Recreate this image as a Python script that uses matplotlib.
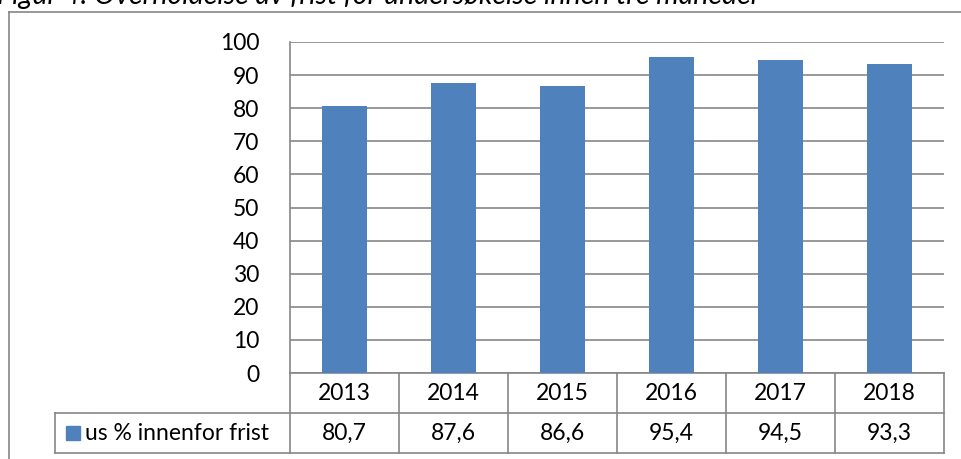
import matplotlib.pyplot as plt
import numpy as np
from matplotlib.lines import Line2D
import matplotlib.transforms as mtransforms

# data
years = ['2013', '2014', '2015', '2016', '2017', '2018']
values = [80.7, 87.6, 86.6, 95.4, 94.5, 93.3]
series_name = 'us % innenfor frist'
title = 'Figur 4: Overholdelse av frist for undersøkelse innen tre måneder'

bar_color = '#4F81BD'
grid_color = '#868686'
font = 'Lato'
fs = 16.5

W, H = 961, 459
fig = plt.figure(figsize=(W / 100, H / 100), dpi=100)
plt.rcParams['font.family'] = [font, 'DejaVu Sans']

def fx(px):
  return px / W

def fy(py):
  return 1 - py / H

# outer chart frame (left + top edges visible)
fig.add_artist(Line2D([fx(9), fx(9)], [fy(12), 0], color=grid_color, lw=1.2))
fig.add_artist(Line2D([fx(9), 1], [fy(12), fy(12)], color=grid_color, lw=1.2))

# title, cut at the top of the picture
fig.text(fx(-3), fy(4), title, fontsize=20.5, style='italic', va='baseline', ha='left')

left, right, top, bottom = 290, 944, 42, 373
ax = fig.add_axes([fx(left), fy(bottom), fx(right - left), fy(top) - fy(bottom)])

x = np.arange(len(years))
ax.bar(x, values, width=0.41, color=bar_color, zorder=3)
ax.set_xlim(-0.5, len(years) - 0.5)
ax.set_ylim(0, 100)
ax.set_yticks(range(0, 101, 10))
ax.yaxis.grid(True, color=grid_color, lw=1.2, zorder=0)
ax.set_xticks([])
ax.tick_params(axis='y', length=0, pad=22, labelsize=fs)
for s in ['top', 'right', 'bottom']:
  ax.spines[s].set_visible(False)
ax.spines['left'].set_color(grid_color)
ax.spines['left'].set_linewidth(1.2)

# data table under the axis
trans = mtransforms.blended_transform_factory(ax.transData, ax.transAxes)
ph = bottom - top
r1 = -40 / ph
r2 = -80 / ph
leg_left = (55 - left) / ((right - left) / len(years)) - 0.5
lkw = dict(color=grid_color, lw=1.2, transform=trans, clip_on=False)
ax.add_line(Line2D([-0.5, len(years) - 0.5], [0, 0], **lkw))
ax.add_line(Line2D([leg_left, len(years) - 0.5], [r1, r1], **lkw))
ax.add_line(Line2D([leg_left, len(years) - 0.5], [r2, r2], **lkw))
for i in range(len(years) + 1):
  ax.add_line(Line2D([i - 0.5, i - 0.5], [0, r2], **lkw))
ax.add_line(Line2D([leg_left, leg_left], [r1, r2], **lkw))

for i, (yr, v) in enumerate(zip(years, values)):
  ax.text(i, r1 / 2, yr, transform=trans, ha='center', va='center', fontsize=fs)
  ax.text(i, (r1 + r2) / 2, f'{v:.1f}'.replace('.', ','), transform=trans,
          ha='center', va='center', fontsize=fs)

# legend key inside the table
ax.add_patch(plt.Rectangle((leg_left + 0.1, (r1 + r2) / 2 - 7 / ph), 14 / 109, 14 / ph,
                           color=bar_color, transform=trans, clip_on=False))
ax.text(leg_left + 0.1 + 19 / 109, (r1 + r2) / 2, series_name, transform=trans,
        ha='left', va='center', fontsize=fs)

fig.savefig('out.png', dpi=100)
